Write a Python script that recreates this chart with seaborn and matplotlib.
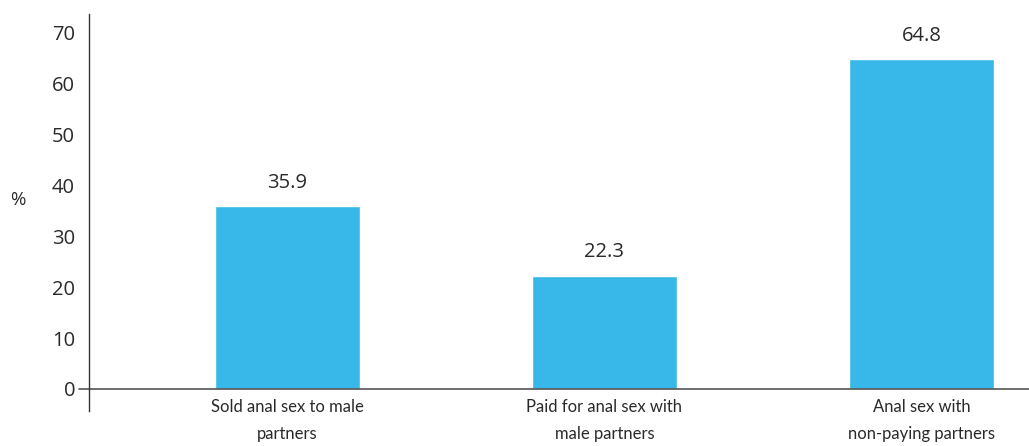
import matplotlib
matplotlib.use("Agg")
import matplotlib.pyplot as plt
import seaborn as sns
import pandas as pd

categories = ["Sold anal sex to male\npartners",
              "Paid for anal sex with\nmale partners",
              "Anal sex with\nnon-paying partners"]
values = [35.9, 22.3, 64.8]
yticks = [0, 10, 20, 30, 40, 50, 60, 70]

sns.set_theme(style="white")
plt.rcParams['font.family'] = ['Open Sans', 'DejaVu Sans']

df = pd.DataFrame({"cat": categories, "val": values})

fig = plt.figure(figsize=(10.29, 4.46), dpi=100)
ax = fig.add_axes([89/1029, 35/446, 940/1029, (411-14)/446])

sns.barplot(data=df, x="cat", y="val", color="#38b8e9", width=0.457,
            saturation=1, ax=ax)

ax.set_xlim(-0.626, 2.339)
ax.set_ylim(-4.33, 73.7)
ax.set_yticks(yticks)
ax.set_yticklabels([str(t) for t in yticks], fontsize=14.5, color="#2a2a2a")
ax.tick_params(axis='y', length=0, pad=10)
ax.tick_params(axis='x', length=0, pad=-9)
ax.set_xticks(range(len(categories)))
ax.set_xticklabels(categories, fontsize=12, color="#2a2a2a",
                   family=['Lato', 'DejaVu Sans'],
                   linespacing=1.85)
for lbl in ax.get_xticklabels():
    lbl.set_verticalalignment('top')
ax.set_xlabel("")
ax.set_ylabel("")

for s in ["top", "right", "bottom"]:
    ax.spines[s].set_visible(False)
ax.spines["left"].set_color("#333333")
ax.spines["left"].set_linewidth(1.0)
ax.axhline(0, xmin=-0.0106, xmax=1, color="#555555", lw=1.2, clip_on=False)

for i, v in enumerate(values):
    ax.annotate(f"{v}", (i, v), xytext=(0, 17), textcoords="offset points",
                ha="center", va="center", fontsize=14.5, color="#2a2a2a")

fig.text(18/1029, 1 - 200/446, "%", fontsize=13.5, color="#2a2a2a",
         ha="center", va="center")

fig.savefig("out.png", dpi=100)
